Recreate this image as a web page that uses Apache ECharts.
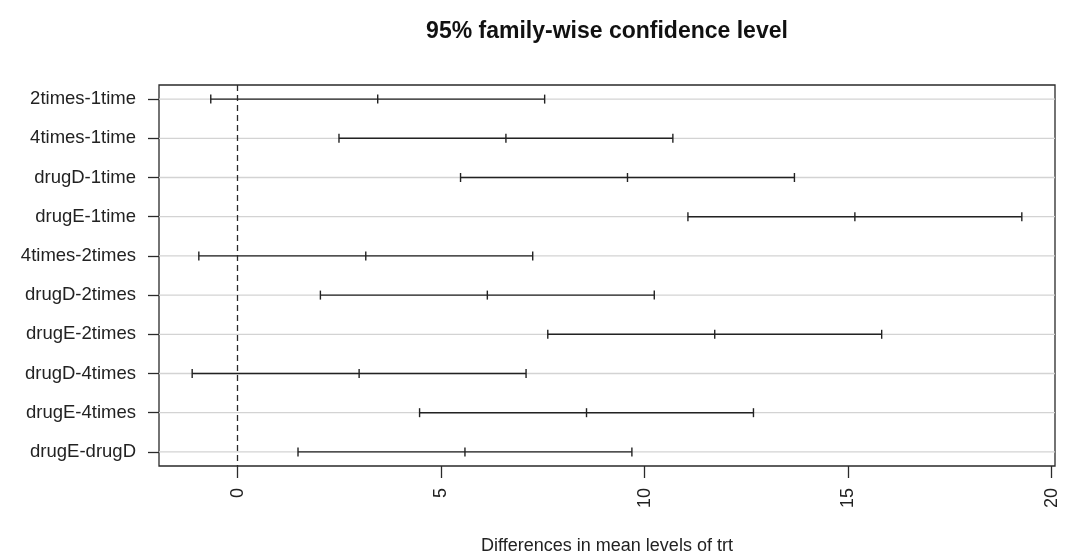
<!DOCTYPE html>
<html>
<head>
<meta charset="utf-8">
<script src="https://cdn.jsdelivr.net/npm/echarts@6/dist/echarts.min.js"></script>
<style>html,body{margin:0;padding:0;background:#fff}#c{width:1080px;height:560px}</style>
</head>
<body>
<div id="c"></div>
<script>
const comparisons = ['2times-1time','4times-1time','drugD-1time','drugE-1time','4times-2times','drugD-2times','drugE-2times','drugD-4times','drugE-4times','drugE-drugD'];
const diffs = [3.44300, 6.59281, 9.57920, 15.16555, 3.14981, 6.13620, 11.72255, 2.98639, 8.57274, 5.58635];
const lowers = [-0.6582817, 2.4915283, 5.4779183, 11.0642683, -0.9514717, 2.0349183, 7.6212683, -1.1148917, 4.4714583, 1.4850683];
const uppers = [7.544282, 10.694092, 13.680482, 19.266832, 7.251092, 10.237482, 15.823832, 7.087672, 12.674022, 9.687632];
const xTicks = [0, 5, 10, 15, 20];
const yTicks = [1, 2, 3, 4, 5, 6, 7, 8, 9, 10];

const FONT = "'Liberation Sans', Arial, sans-serif";
const INK = '#222';

const data = comparisons.map((c, i) => [lowers[i], diffs[i], uppers[i], i + 1]);

const chart = echarts.init(document.getElementById('c'), null, {renderer: 'canvas'});
chart.setOption({
  animation: false,
  backgroundColor: '#fff',
  graphic: [{
    type: 'text', x: 607, y: 32,
    style: {text: '95% family-wise confidence level', font: "bold 23px " + FONT, fill: '#111', textAlign: 'center', textVerticalAlign: 'middle'}
  }],
  grid: {left: 159, right: 25, top: 85, bottom: 93, show: true, borderColor: '#2a2a2a', borderWidth: 1.3, backgroundColor: 'transparent'},
  xAxis: {
    type: 'value', min: -1.930, max: 20.082,
    name: 'Differences in mean levels of trt', nameLocation: 'middle', nameGap: 71,
    nameTextStyle: {fontFamily: FONT, fontSize: 18, color: INK},
    axisLine: {show: false, onZero: false},
    axisTick: {show: true, inside: false, length: 12, customValues: xTicks, lineStyle: {color: '#2a2a2a', width: 1.3}},
    axisLabel: {customValues: xTicks, rotate: 90, margin: 22, fontFamily: FONT, fontSize: 18, color: INK},
    splitLine: {show: false}
  },
  yAxis: {
    type: 'value', min: 0.64, max: 10.36, inverse: true,
    axisLine: {show: false, onZero: false},
    axisTick: {show: true, inside: false, length: 11, customValues: yTicks, lineStyle: {color: '#2a2a2a', width: 1.3}},
    axisLabel: {customValues: yTicks, margin: 23, fontFamily: FONT, fontSize: 18.5, color: INK,
      formatter: v => comparisons[Math.round(v) - 1] || ''},
    splitLine: {show: false}
  },
  series: [{
    type: 'custom',
    coordinateSystem: 'cartesian2d',
    encode: {x: [0, 1, 2], y: 3},
    data: data,
    clip: false,
    renderItem: function (params, api) {
      const y = api.value(3);
      const pL = api.coord([api.value(0), y]);
      const pM = api.coord([api.value(1), y]);
      const pU = api.coord([api.value(2), y]);
      const cs = params.coordSys;
      const h = 4.5;
      const ls = {stroke: '#222', lineWidth: 1.4};
      return {
        type: 'group',
        children: [
          {type: 'line', shape: {x1: cs.x, y1: pM[1], x2: cs.x + cs.width, y2: pM[1]}, style: {stroke: '#d3d3d3', lineWidth: 1.3}, z2: 0},
          {type: 'line', shape: {x1: pL[0], y1: pL[1], x2: pU[0], y2: pU[1]}, style: ls, z2: 2},
          {type: 'line', shape: {x1: pL[0], y1: pL[1] - h, x2: pL[0], y2: pL[1] + h}, style: ls, z2: 2},
          {type: 'line', shape: {x1: pM[0], y1: pM[1] - h, x2: pM[0], y2: pM[1] + h}, style: ls, z2: 2},
          {type: 'line', shape: {x1: pU[0], y1: pU[1] - h, x2: pU[0], y2: pU[1] + h}, style: ls, z2: 2}
        ]
      };
    },
    markLine: {
      silent: true, symbol: 'none', label: {show: false},
      lineStyle: {color: '#2a2a2a', type: [6, 4], width: 1.3},
      data: [{xAxis: 0}]
    }
  }]
});
</script>
</body>
</html>
